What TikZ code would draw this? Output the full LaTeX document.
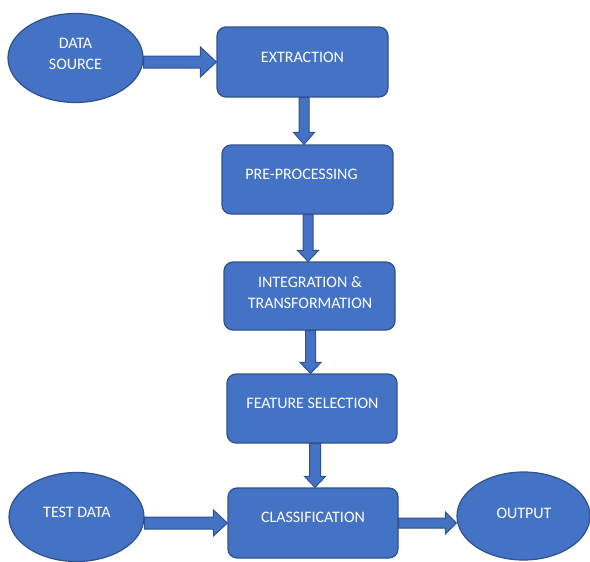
\documentclass[tikz,border=0pt]{standalone}
\usepackage{fontspec}
\setmainfont{Carlito}
\usetikzlibrary{shapes.geometric,calc}
\definecolor{boxfill}{HTML}{4472C4}
\definecolor{boxline}{HTML}{2F528F}
\tikzset{
  flowbox/.style={draw=boxline, fill=boxfill, line width=1.2pt, rounded corners=9pt, minimum width=#1, minimum height=69pt, inner sep=0pt},
  flowbox/.default=171pt,
  oval/.style={ellipse, draw=boxline, fill=boxfill, line width=1.2pt, minimum width=135pt, minimum height=89pt, inner sep=0pt},
  lbl/.style={text=white, font=\fontsize{16}{21}\selectfont, align=center, inner sep=0pt},
  barrow/.style={draw=boxline, fill=boxfill, line width=1pt, line join=miter}
}
\newcommand{\blockarrow}[5]{%
  \coordinate (ba-h) at ($(#2)!#5!(#1)$);
  \filldraw[barrow] ($(#1)!#3!90:(#2)$) -- ($(ba-h)!#3!90:(#2)$) -- ($(ba-h)!#4!90:(#2)$) -- (#2) -- ($(ba-h)!#4!-90:(#2)$) -- ($(ba-h)!#3!-90:(#2)$) -- ($(#1)!#3!-90:(#2)$) -- cycle;%
}
\begin{document}
\begin{tikzpicture}[x=1pt, y=-1pt]
\useasboundingbox (0,0) rectangle (590,562);
% ellipses
\node[oval] (ds) at (75.5,58) {};
\node[lbl] (dst) at (75.5,53.5) {DATA\\SOURCE};
\node[oval] (td) at (76.5,517) {};
\node[lbl] (tdt) at (77,512) {TEST DATA};
\node[oval, minimum width=133pt, minimum height=88pt] (out) at (523.5,516) {};
\node[lbl] (outt) at (524,513) {OUTPUT};
% boxes
\node[flowbox, minimum height=70pt] (ext) at (302.5,62) {};
\node[lbl] (extt) at (302.5,57) {EXTRACTION};
\node[flowbox] (pre) at (307.5,179.5) {};
\node[lbl] (pret) at (301.5,174) {PRE-PROCESSING};
\node[flowbox, minimum height=68pt] (int) at (309.5,296) {};
\node[lbl] (intt) at (310,292.5) {INTEGRATION \&\\TRANSFORMATION};
\node[flowbox=170pt] (feat) at (312,408.5) {};
\node[lbl] (featt) at (312.5,403) {FEATURE SELECTION};
\node[flowbox=170pt, minimum height=70pt] (cls) at (313,523) {};
\node[lbl] (clst) at (313,517) {CLASSIFICATION};
% connectors
\coordinate (a0s) at (ds.east |- ext.center);
\blockarrow{a0s}{ext.west}{6pt}{15pt}{16pt}
\coordinate (a1s) at ([xshift=1.5pt]ext.south);
\coordinate (a1e) at (a1s |- pre.north);
\blockarrow{a1s}{a1e}{5pt}{10.5pt}{12pt}
\coordinate (a2s) at ([xshift=0.5pt]pre.south);
\coordinate (a2e) at (a2s |- int.north);
\blockarrow{a2s}{a2e}{5pt}{10.5pt}{11pt}
\coordinate (a3s) at ([xshift=1pt]int.south);
\coordinate (a3e) at (a3s |- feat.north);
\blockarrow{a3s}{a3e}{5pt}{10.5pt}{11pt}
\coordinate (a4s) at ([xshift=3pt]feat.south);
\coordinate (a4e) at (a4s |- cls.north);
\blockarrow{a4s}{a4e}{5.5pt}{10.5pt}{11pt}
\coordinate (a5s) at (td.east |- cls.center);
\blockarrow{a5s}{cls.west}{6pt}{13pt}{14pt}
\coordinate (a6e) at (out.west |- cls.center);
\blockarrow{cls.east}{a6e}{5pt}{11pt}{11pt}
\end{tikzpicture}
\end{document}
